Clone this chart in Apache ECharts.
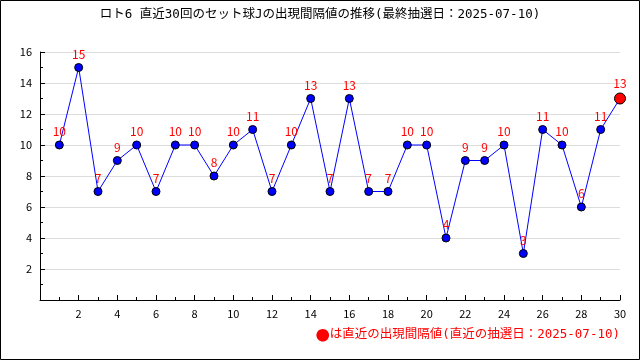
<!DOCTYPE html>
<html><head><meta charset="utf-8">
<script src="https://cdn.jsdelivr.net/npm/echarts@6/dist/echarts.min.js"></script>
<style>html,body{margin:0;padding:0;background:#fff}#c{width:640px;height:360px}</style>
</head><body><div id="c"></div>
<script>
const titleText = 'ロト6 直近30回のセット球Jの出現間隔値の推移(最終抽選日：2025-07-10)';
const footerMark = '●';
const footerText = 'は直近の出現間隔値(直近の抽選日：2025-07-10)';
const draws = [1,2,3,4,5,6,7,8,9,10,11,12,13,14,15,16,17,18,19,20,21,22,23,24,25,26,27,28,29,30];
const intervals = [10,15,7,9,10,7,10,10,8,10,11,7,10,13,7,13,7,7,10,10,4,9,9,10,3,11,10,6,11,13];

const font = '"Noto Sans CJK JP", "DejaVu Sans", sans-serif';
const monoFont = '"DejaVu Sans Mono", "Noto Sans CJK JP", monospace';
const data = draws.map((d, i) => {
  const last = i === draws.length - 1;
  return {
    value: [d, intervals[i]],
    symbolSize: last ? 11 : 8,
    itemStyle: last ? {color: '#ff0000', borderColor: '#000', borderWidth: 1} : undefined
  };
});

const chart = echarts.init(document.getElementById('c'), null, {renderer: 'canvas'});
chart.setOption({
  animation: false,
  backgroundColor: '#fff',
  title: {
    text: titleText, left: 'center', top: 3,
    textStyle: {fontFamily: monoFont, fontSize: 12.5, fontWeight: 'normal', color: '#000'}
  },
  grid: {left: 40, right: 20, top: 52, bottom: 60, containLabel: false},
  xAxis: {
    type: 'value', min: 0, max: 30, interval: 2,
    axisLine: {lineStyle: {color: '#000', width: 1}},
    axisTick: {inside: true, length: 5, lineStyle: {color: '#000'}},
    minorTick: {show: true, splitNumber: 2, length: 3, lineStyle: {color: '#000'}},
    splitLine: {show: false},
    axisLabel: {color: '#000', fontSize: 11, fontFamily: font, margin: 8,
      formatter: v => v === 0 ? '' : String(v)}
  },
  yAxis: {
    type: 'value', min: 0, max: 16, interval: 2,
    axisLine: {show: true, lineStyle: {color: '#000', width: 1}},
    axisTick: {show: true, inside: true, length: 5, lineStyle: {color: '#000'}},
    minorTick: {show: true, splitNumber: 2, length: 3, lineStyle: {color: '#000'}},
    splitLine: {show: true, lineStyle: {color: '#dcdcdc', width: 1}},
    axisLabel: {color: '#000', fontSize: 11, fontFamily: font, margin: 8,
      formatter: v => v === 0 ? '' : String(v)}
  },
  series: [{
    type: 'line',
    data: data,
    symbol: 'circle',
    symbolSize: 8,
    lineStyle: {color: '#0000ff', width: 1},
    itemStyle: {color: '#0000ff', borderColor: '#000', borderWidth: 1},
    label: {show: true, position: 'top', distance: 3, color: '#ff0000', fontSize: 12, fontFamily: font,
      formatter: p => String(p.value[1])},
    z: 3
  }],
  graphic: [
    {type: 'rect', shape: {x: 0.5, y: 0.5, width: 639, height: 359},
     style: {fill: 'none', stroke: '#000', lineWidth: 1}, silent: true},
    {type: 'text', right: 20, top: 328,
     style: {
       text: '{m|' + footerMark + '}{t|' + footerText + '}',
       rich: {
         m: {fill: '#ff0000', fontSize: 14, fontFamily: '"Noto Sans CJK JP"'},
         t: {fill: '#ff0000', fontSize: 12.5, fontFamily: monoFont}
       }
     }}
  ]
});
</script></body></html>
